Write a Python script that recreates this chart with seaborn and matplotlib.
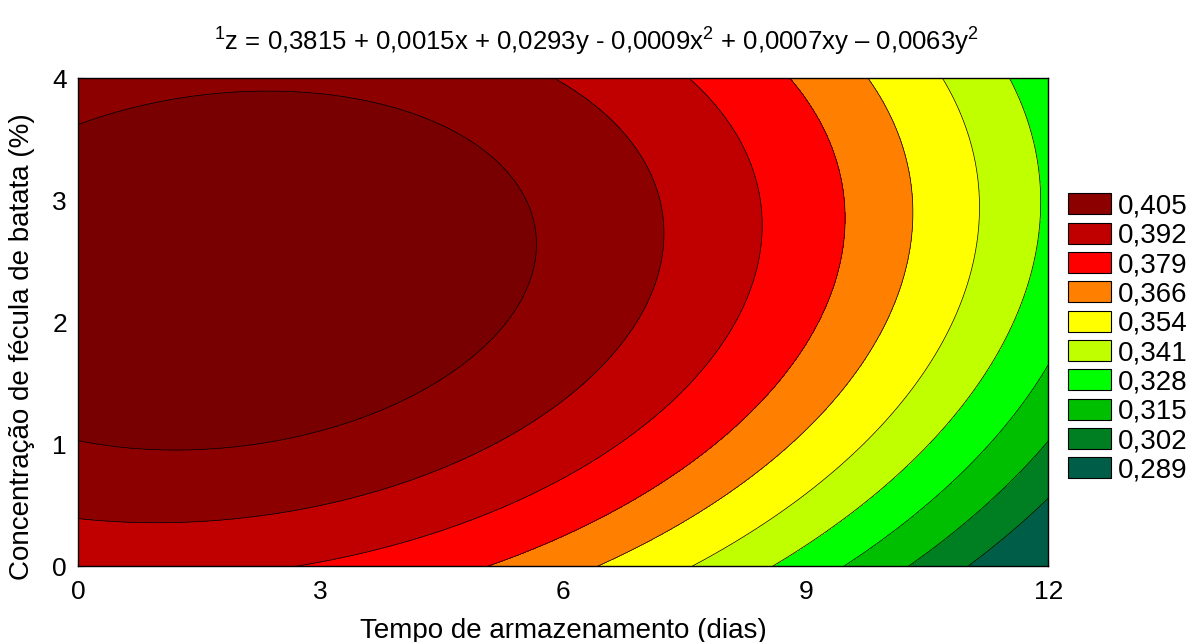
import numpy as np
import matplotlib
matplotlib.use("Agg")
import matplotlib.pyplot as plt
import seaborn as sns
from matplotlib.patches import Patch

# Model coefficients (from title): z = b0 + b1 x + b2 y + b11 x^2 + b12 xy + b22 y^2
coef_names = ["b0", "b1", "b2", "b11", "b12", "b22"]
coef_values = [0.3815, 0.0015, 0.0293, -0.0009, 0.0007, -0.0063]

x_range = [0, 12]
y_range = [0, 4]
x_ticks = [0, 3, 6, 9, 12]
y_ticks = [0, 1, 2, 3, 4]

levels = [0.289, 0.302, 0.315, 0.328, 0.341, 0.354, 0.366, 0.379, 0.392, 0.405]
level_labels = ["0,289", "0,302", "0,315", "0,328", "0,341", "0,354", "0,366", "0,379", "0,392", "0,405"]
level_colors = ["#005e48", "#007f22", "#00bf00", "#00ff00", "#bfff00",
                "#ffff00", "#ff8000", "#ff0000", "#c00000", "#8c0000"]
above_color = "#780000"

sns.set_style("white")
plt.rcParams['font.family'] = ['Liberation Sans', 'DejaVu Sans']
plt.rcParams['mathtext.fontset'] = 'custom'
plt.rcParams['mathtext.rm'] = 'Liberation Sans'
plt.rcParams['mathtext.default'] = 'regular'
plt.rcParams['text.color'] = 'black'
plt.rcParams['axes.labelcolor'] = 'black'
plt.rcParams['xtick.color'] = 'black'
plt.rcParams['ytick.color'] = 'black'

b0, b1, b2, b11, b12, b22 = coef_values
xs = np.linspace(x_range[0], x_range[1], 400)
ys = np.linspace(y_range[0], y_range[1], 300)
X, Y = np.meshgrid(xs, ys)
Z = b0 + b1 * X + b2 * Y + b11 * X**2 + b12 * X * Y + b22 * Y**2

fig = plt.figure(figsize=(11.92, 6.42), dpi=100)
ax = fig.add_axes([0.0655, 0.118, 0.814, 0.76])

bounds = [-1.0] + levels + [1.0]
colors = level_colors + [above_color]
ax.contourf(X, Y, Z, levels=bounds, colors=colors)
ax.contour(X, Y, Z, levels=levels, colors="black", linewidths=0.5)

ax.set_xlim(*x_range)
ax.set_ylim(*y_range)
ax.set_xticks(x_ticks)
ax.set_yticks(y_ticks)
ax.tick_params(axis="both", labelsize=19, direction="in", length=4, width=0.8,
               bottom=True, left=True)
ax.tick_params(axis="x", pad=10)
ax.tick_params(axis="y", pad=8)
for s in ax.spines.values():
    s.set_color("black")
    s.set_linewidth(1.0)

ax.set_xlabel("Tempo de armazenamento (dias)", fontsize=20)
ax.xaxis.set_label_coords(0.5, -0.132)
ax.xaxis.label.set_va("center")
ax.set_ylabel("Concentração de fécula de batata (%)", fontsize=20)
ax.yaxis.set_label_coords(-0.058, 0.45)
ax.yaxis.label.set_va("center")

title = (r"$^{1}$z = 0,3815 + 0,0015x + 0,0293y - 0,0009x$^{2}$ + 0,0007xy – 0,0063y$^{2}$")
fig.text(0.5, 0.935, title, ha="center", va="center", fontsize=18.5)

handles = [Patch(facecolor=c, edgecolor="black", linewidth=0.8) for c in level_colors[::-1]]
labels = level_labels[::-1]
leg = fig.legend(handles, labels, loc="center left", bbox_to_anchor=(0.896, 0.473),
                 frameon=False, fontsize=20, handlelength=1.55, handleheight=0.8,
                 labelspacing=0.11, handletextpad=0.25, borderpad=0.0, borderaxespad=0.0)

fig.savefig("out.png", dpi=100)
